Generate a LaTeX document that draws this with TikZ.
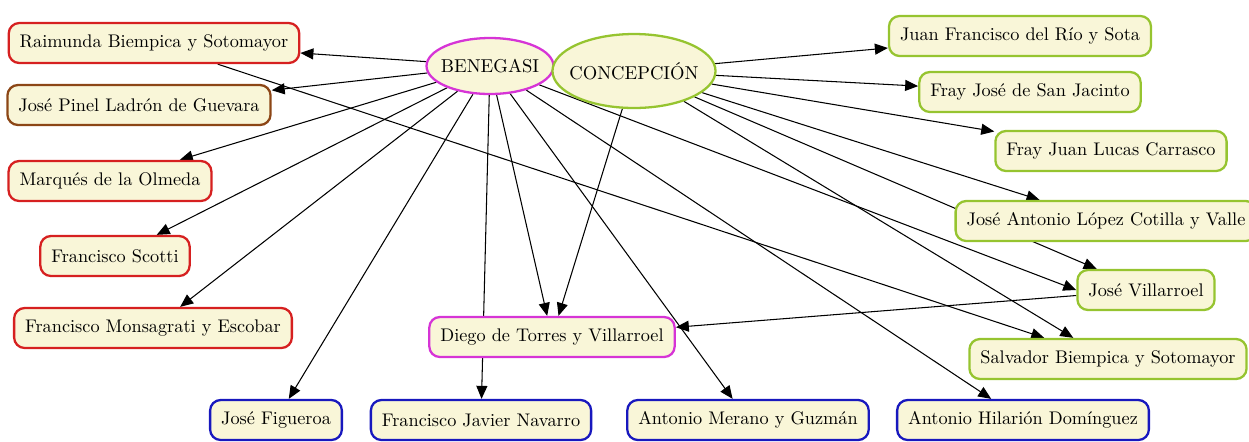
\documentclass[tikz,border=0pt]{standalone}
\usepackage{tikz}
\usetikzlibrary{shapes.geometric,arrows.meta,backgrounds}
\definecolor{nodecream}{RGB}{249,246,216}
\definecolor{edgered}{RGB}{214,32,32}
\definecolor{edgebrown}{RGB}{140,70,22}
\definecolor{edgeblue}{RGB}{24,24,190}
\definecolor{edgemagenta}{RGB}{214,52,214}
\definecolor{edgegreen}{RGB}{150,196,48}
\tikzset{
  pbox/.style  ={rectangle, rounded corners=6pt, fill=nodecream, line width=1.3pt,
                 minimum height=0.8cm, inner xsep=0.22cm, font=\fontsize{10.4}{12.5}\selectfont},
  rbox/.style  ={pbox, draw=edgered},
  brbox/.style ={pbox, draw=edgebrown},
  bbox/.style  ={pbox, draw=edgeblue},
  mbox/.style  ={pbox, draw=edgemagenta},
  gbox/.style  ={pbox, draw=edgegreen},
  hub/.style   ={ellipse, fill=nodecream, line width=1.3pt, inner xsep=-4pt, inner ysep=0pt,
                 font=\fontsize{10.6}{12.5}\selectfont},
  link/.style  ={-{Triangle[length=0.26cm,width=0.22cm]}, line width=0.6pt}
}
\begin{document}
\begin{tikzpicture}[x=0.02cm,y=-0.02cm]
\useasboundingbox (0,0) rectangle (1249,441);

% Hubs
\node[hub, draw=edgemagenta, minimum width=2.54cm, minimum height=1.12cm] (benegasi) at (490,66) {BENEGASI};
\node[hub, draw=edgegreen, minimum width=3.2cm, minimum height=1.48cm] (concepcion) at (634,71) {CONCEPCIÓN};

% Left column
\node[rbox]  (raimunda)   at (154,43)  {Raimunda Biempica y Sotomayor};
\node[brbox] (pinel)      at (139,105) {José Pinel Ladrón de Guevara};
\node[rbox]  (olmeda)     at (110,181) {Marqués de la Olmeda};
\node[rbox]  (scotti)     at (115,256) {Francisco Scotti};
\node[rbox]  (monsagrati) at (153,328) {Francisco Monsagrati y Escobar};

% Bottom row
\node[mbox] (diego)    at (552,337)  {Diego de Torres y Villarroel};
\node[bbox] (figueroa) at (276,420)  {José Figueroa};
\node[bbox] (navarro)  at (481,420)  {Francisco Javier Navarro};
\node[bbox] (merano)   at (748,420)  {Antonio Merano y Guzmán};
\node[bbox] (hilarion) at (1023,420) {Antonio Hilarión Domínguez};

% Right column
\node[gbox] (rio)        at (1020,36)  {Juan Francisco del Río y Sota};
\node[gbox] (jacinto)    at (1030,92)  {Fray José de San Jacinto};
\node[gbox] (carrasco)   at (1111,151) {Fray Juan Lucas Carrasco};
\node[gbox] (cotilla)    at (1106,221) {José Antonio López Cotilla y Valle};
\node[gbox] (villarroel) at (1146,290) {José Villarroel};
\node[gbox] (salvador)   at (1108,359) {Salvador Biempica y Sotomayor};

\begin{scope}[on background layer]
\foreach \t in {raimunda,pinel,olmeda,scotti,monsagrati,figueroa,navarro,diego,merano,hilarion}{\draw[link] (benegasi) -- (\t);}
\draw[link] (benegasi) -- (villarroel.west);
\foreach \t in {rio,jacinto,carrasco,cotilla,villarroel,salvador,diego}{\draw[link] (concepcion) -- (\t);}
\draw[link] (raimunda) -- (salvador);
\draw[link] (villarroel) -- (diego);
\end{scope}
\end{tikzpicture}
\end{document}
